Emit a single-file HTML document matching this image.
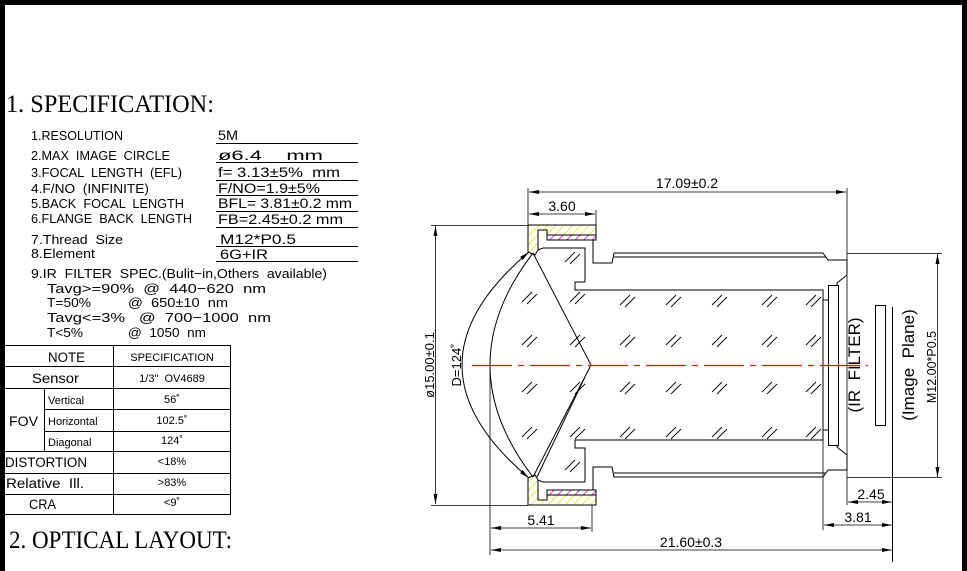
<!DOCTYPE html>
<html><head><meta charset="utf-8"><style>
html,body{margin:0;padding:0;background:#fff}
body{width:967px;height:571px;position:relative;overflow:hidden}
svg{position:absolute;left:0;top:0}
text{font-family:"Liberation Sans",sans-serif;fill:#000;white-space:pre}
.ser{font-family:"Liberation Serif",serif}
</style></head><body>
<svg width="967" height="571" viewBox="0 0 967 571" xmlns="http://www.w3.org/2000/svg">
<defs>
<pattern id="yh" patternUnits="userSpaceOnUse" width="6" height="6" patternTransform="rotate(45)">
<rect width="6" height="6" fill="#fff"/><line x1="0" y1="0" x2="0" y2="6" stroke="#e8e000" stroke-width="1.5"/></pattern>
<pattern id="mh" patternUnits="userSpaceOnUse" width="6" height="6" patternTransform="rotate(45)">
<rect width="6" height="6" fill="#fff"/><line x1="0" y1="0" x2="0" y2="6" stroke="#e000e0" stroke-width="1.5"/></pattern>
<marker id="a" viewBox="0 0 10 6" refX="10" refY="3" markerWidth="10" markerHeight="6" orient="auto-start-reverse" markerUnits="userSpaceOnUse"><path d="M0,1 L10,3 L0,5 z" fill="#000"/></marker>
</defs>
<rect x="0" y="0" width="967" height="5" fill="#000"/>
<rect x="0" y="0" width="5" height="571" fill="#000"/>
<rect x="962" y="0" width="5" height="571" fill="#000"/>

<text class="ser" x="6" y="112" font-size="25" textLength="208" lengthAdjust="spacingAndGlyphs">1. SPECIFICATION:</text>
<text class="ser" x="9" y="548" font-size="25" textLength="223" lengthAdjust="spacingAndGlyphs">2. OPTICAL LAYOUT:</text>

<g font-size="13">
<text x="31" y="140" textLength="92" lengthAdjust="spacingAndGlyphs">1.RESOLUTION</text>
<text x="31" y="160" textLength="139" lengthAdjust="spacingAndGlyphs">2.MAX  IMAGE  CIRCLE</text>
<text x="31" y="177" textLength="151" lengthAdjust="spacingAndGlyphs">3.FOCAL  LENGTH  (EFL)</text>
<text x="31" y="193" textLength="118" lengthAdjust="spacingAndGlyphs">4.F/NO  (INFINITE)</text>
<text x="31" y="208" textLength="153" lengthAdjust="spacingAndGlyphs">5.BACK  FOCAL  LENGTH</text>
<text x="31" y="223" textLength="161" lengthAdjust="spacingAndGlyphs">6.FLANGE  BACK  LENGTH</text>
<text x="31" y="244" textLength="92" lengthAdjust="spacingAndGlyphs">7.Thread  Size</text>
<text x="31" y="258" textLength="64" lengthAdjust="spacingAndGlyphs">8.Element</text>
<text x="31" y="278" textLength="296" lengthAdjust="spacingAndGlyphs">9.IR  FILTER  SPEC.(Bulit−in,Others  available)</text>
<text x="47" y="293" textLength="219" lengthAdjust="spacingAndGlyphs">Tavg&gt;=90%  @  440−620  nm</text>
<text x="47" y="307" textLength="44" lengthAdjust="spacingAndGlyphs">T=50%</text><text x="128" y="307" textLength="100" lengthAdjust="spacingAndGlyphs">@  650±10  nm</text>
<text x="47" y="322" textLength="224" lengthAdjust="spacingAndGlyphs">Tavg&lt;=3%   @  700−1000  nm</text>
<text x="47" y="337" textLength="36" lengthAdjust="spacingAndGlyphs">T&lt;5%</text><text x="128" y="337" textLength="78" lengthAdjust="spacingAndGlyphs">@  1050  nm</text>
</g>
<g font-size="13.5">
<text x="218" y="140" textLength="20" lengthAdjust="spacingAndGlyphs">5M</text>
<text x="218" y="160" textLength="105" lengthAdjust="spacingAndGlyphs">ø6.4    mm</text>
<text x="218" y="177" textLength="122" lengthAdjust="spacingAndGlyphs">f= 3.13±5%  mm</text>
<text x="218" y="193" textLength="102" lengthAdjust="spacingAndGlyphs">F/NO=1.9±5%</text>
<text x="218" y="208" textLength="134" lengthAdjust="spacingAndGlyphs">BFL= 3.81±0.2 mm</text>
<text x="218" y="224" textLength="125" lengthAdjust="spacingAndGlyphs">FB=2.45±0.2 mm</text>
<text x="220" y="244" textLength="76" lengthAdjust="spacingAndGlyphs">M12*P0.5</text>
<text x="220" y="259" textLength="48" lengthAdjust="spacingAndGlyphs">6G+IR</text>
</g>
<g stroke="#000" stroke-width="1">
<line x1="216" y1="143.5" x2="358" y2="143.5"/>
<line x1="216" y1="162.5" x2="358" y2="162.5"/>
<line x1="216" y1="180.5" x2="358" y2="180.5"/>
<line x1="216" y1="195.5" x2="358" y2="195.5"/>
<line x1="216" y1="211.5" x2="358" y2="211.5"/>
<line x1="216" y1="227.5" x2="358" y2="227.5"/>
<line x1="216" y1="246.5" x2="358" y2="246.5"/>
<line x1="216" y1="261.5" x2="358" y2="261.5"/>
</g>
<g stroke="#000" stroke-width="1" fill="none">
<rect x="3.5" y="345.5" width="227" height="169"/>
<line x1="3" y1="366.5" x2="231" y2="366.5"/>
<line x1="3" y1="388.5" x2="231" y2="388.5"/>
<line x1="44" y1="409.5" x2="231" y2="409.5"/>
<line x1="44" y1="431.5" x2="231" y2="431.5"/>
<line x1="3" y1="451.5" x2="231" y2="451.5"/>
<line x1="3" y1="473.5" x2="231" y2="473.5"/>
<line x1="3" y1="494.5" x2="231" y2="494.5"/>
<line x1="113.5" y1="345" x2="113.5" y2="515"/>
<line x1="44.5" y1="388" x2="44.5" y2="452"/>
</g>
<g font-size="13.5">
<text x="48" y="362" textLength="37" lengthAdjust="spacingAndGlyphs">NOTE</text>
<text x="32" y="383" textLength="47" lengthAdjust="spacingAndGlyphs">Sensor</text>
<text x="9" y="426" textLength="29" lengthAdjust="spacingAndGlyphs">FOV</text>
<text x="5" y="467" textLength="82" lengthAdjust="spacingAndGlyphs">DISTORTION</text>
<text x="6" y="488" textLength="78" lengthAdjust="spacingAndGlyphs">Relative  Ill.</text>
<text x="29" y="509" textLength="27" lengthAdjust="spacingAndGlyphs">CRA</text>
</g>
<g font-size="11" text-anchor="middle">
<text x="172" y="361">SPECIFICATION</text>
<text x="172" y="382">1/3"  OV4689</text>
<text x="48" y="404" text-anchor="start">Vertical</text>
<text x="48" y="425" text-anchor="start">Horizontal</text>
<text x="48" y="446" text-anchor="start">Diagonal</text>
<text x="172" y="403">56˚</text>
<text x="172" y="424">102.5˚</text>
<text x="172" y="444">124˚</text>
<text x="172" y="465">&lt;18%</text>
<text x="172" y="486">&gt;83%</text>
<text x="172" y="506">&lt;9˚</text>
</g>

<g stroke="#000" stroke-width="1" fill="none">
<path d="M528,225 H596 V240 H547 V230 H538 V250 L535,255 L528,252 Z" fill="url(#yh)"/>
<rect x="547" y="235" width="49" height="5" fill="url(#mh)"/>
<path d="M528,505 H596 V490 H547 V500 H538 V480 L535,475 L528,478 Z" fill="url(#yh)"/>
<rect x="547" y="490" width="49" height="5" fill="url(#mh)"/>
<path d="M538,250 L543,248 H585 V282 H575 V290 H823 V440 H575 V448 H585 V482 H543 L538,480"/>
<path d="M593,240 V263 H612 L614,253 H823 L828,260 H847 V275 L837,283 V285"/>
<path d="M593,490 V467 H612 L614,477 H823 L828,470 H847 V455 L837,447 V445"/>
<line x1="614" y1="257" x2="826" y2="257"/>
<line x1="614" y1="473" x2="826" y2="473"/>
<rect x="828.5" y="285.5" width="10" height="160"/>
<path d="M823,300 H828 M823,430 H828"/>
<rect x="875.5" y="305.5" width="10" height="120"/>
<line x1="892.5" y1="307" x2="892.5" y2="562"/>
<path d="M533,253 Q447,365 533,477"/>
<path d="M533,253 L591,365 L533,477"/>
<path d="M537,477 L585,377"/>
<path d="M529,252 Q395,365 529,478" marker-start="url(#a)" marker-end="url(#a)"/>
</g>
<g stroke="#000" stroke-width="0.9">
<g id="h"><line x1="0" y1="0" x2="10" y2="-10"/><line x1="5" y1="2" x2="15" y2="-8"/></g>
<use href="#h" x="522" y="302"/><use href="#h" x="570" y="302"/><use href="#h" x="620" y="305"/><use href="#h" x="666" y="305"/><use href="#h" x="712" y="305"/><use href="#h" x="762" y="305"/><use href="#h" x="806" y="305"/>
<use href="#h" x="522" y="345"/><use href="#h" x="570" y="345"/><use href="#h" x="620" y="345"/><use href="#h" x="666" y="345"/><use href="#h" x="712" y="345"/><use href="#h" x="762" y="345"/><use href="#h" x="806" y="345"/>
<use href="#h" x="522" y="392"/><use href="#h" x="570" y="392"/><use href="#h" x="620" y="392"/><use href="#h" x="666" y="392"/><use href="#h" x="712" y="392"/><use href="#h" x="762" y="392"/><use href="#h" x="806" y="392"/>
<use href="#h" x="522" y="437"/><use href="#h" x="570" y="437"/><use href="#h" x="620" y="437"/><use href="#h" x="666" y="437"/><use href="#h" x="712" y="437"/><use href="#h" x="762" y="437"/><use href="#h" x="806" y="437"/>
<use href="#h" x="565" y="262"/><use href="#h" x="565" y="470"/>
</g>
<line x1="472" y1="365.5" x2="868" y2="365.5" stroke="#ff0000" stroke-width="1.2" stroke-dasharray="40,6,6,6"/>

<g stroke="#000" stroke-width="0.8" fill="none">
<line x1="528" y1="188" x2="528" y2="225"/>
<line x1="847" y1="188" x2="847" y2="505"/>
<line x1="596" y1="210" x2="596" y2="225"/>
<line x1="529" y1="192" x2="846" y2="192" marker-start="url(#a)" marker-end="url(#a)"/>
<line x1="529" y1="214" x2="595" y2="214" marker-start="url(#a)" marker-end="url(#a)"/>
<line x1="431" y1="225.5" x2="528" y2="225.5"/>
<line x1="431" y1="505.5" x2="528" y2="505.5"/>
<line x1="435.5" y1="226" x2="435.5" y2="504" marker-start="url(#a)" marker-end="url(#a)"/>
<line x1="847" y1="253.5" x2="942" y2="253.5"/>
<line x1="847" y1="477.5" x2="942" y2="477.5"/>
<line x1="937.5" y1="254" x2="937.5" y2="477" marker-start="url(#a)" marker-end="url(#a)"/>
<line x1="848" y1="502" x2="892" y2="502" marker-start="url(#a)" marker-end="url(#a)"/>
<line x1="823" y1="440" x2="823" y2="530"/>
<line x1="824" y1="525" x2="892" y2="525" marker-start="url(#a)" marker-end="url(#a)"/>
<line x1="490" y1="365" x2="490" y2="555"/>
<line x1="592" y1="505" x2="592" y2="532"/>
<line x1="491" y1="528" x2="591" y2="528" marker-start="url(#a)" marker-end="url(#a)"/>
<line x1="491" y1="550" x2="892" y2="550" marker-start="url(#a)" marker-end="url(#a)"/>
</g>
<g font-size="14" text-anchor="middle">
<text x="687" y="188">17.09±0.2</text>
<text x="562" y="211">3.60</text>
<text x="871" y="499">2.45</text>
<text x="858" y="522">3.81</text>
<text x="541" y="525">5.41</text>
<text x="691" y="547">21.60±0.3</text>
<text transform="translate(434,365) rotate(-90)" font-size="13">ø15.00±0.1</text>
<text transform="translate(461,365) rotate(-90)" font-size="13">D=124˚</text>
<text transform="translate(860,365) rotate(-90)" font-size="17">(IR  FILTER)</text>
<text transform="translate(914,365) rotate(-90)" font-size="17">(Image  Plane)</text>
<text transform="translate(936,367) rotate(-90)" font-size="12.5">M12.00*P0.5</text>
</g>
</svg>
</body></html>
